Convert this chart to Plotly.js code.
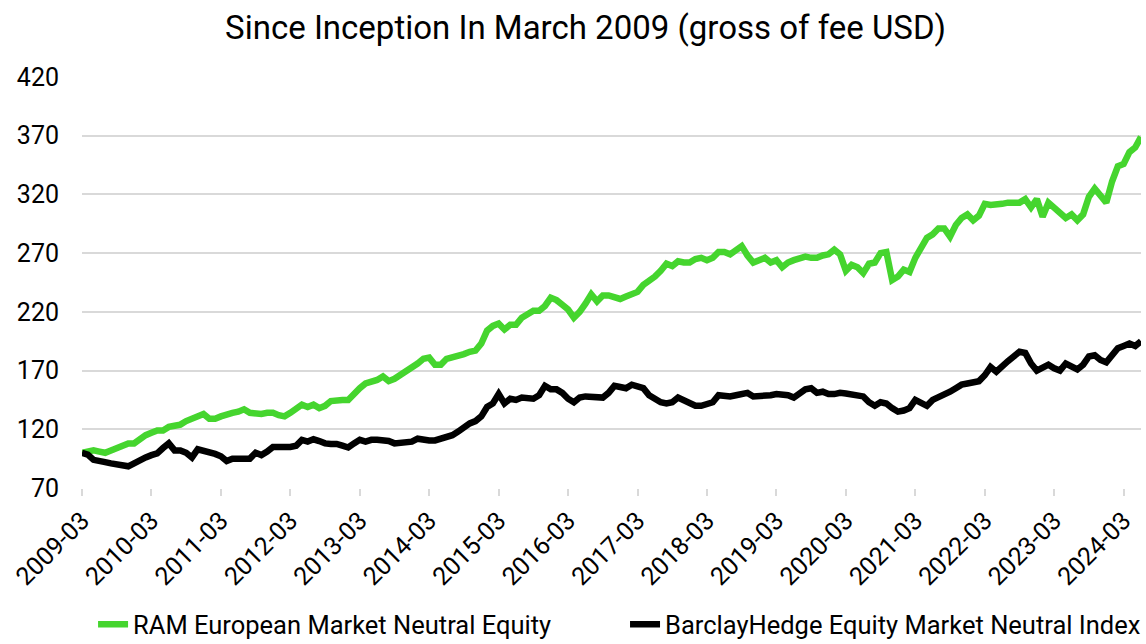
<!DOCTYPE html>
<html>
<head>
<meta charset="utf-8">
<script src="https://cdn.plot.ly/plotly-3.0.1.min.js"></script>
<style>html,body{margin:0;padding:0;background:#fff;}#chart{width:1146px;height:644px;}</style>
</head>
<body>
<div id="chart"></div>
<script>
// Monthly index levels, 2009-03 .. 2024-06
var startYear = 2009, startMonth = 3;
var ramValues = [
 100,101,102,101,100,102,104,107,108,108,
 112,115,117,119,119,122,123,124,127,129,
 131,133,129,129,131,133,134,135,137,134,
 133,133,134,134,132,131,134,138,141,139,
 141,138,140,144,145,145,145,151,155,159,
 160,162,165,161,163,166,169,173,176,180,
 181,175,175,180,181,182,184,186,187,193,
 204,208,210,205,209,209,215,218,221,221,
 225,232,230,226,222,215,220,227,235,229,
 234,234,233,231,233,235,237,243,246,250,
 255,261,259,263,262,262,265,266,264,266,
 271,271,269,273,276,268,262,264,266,262,
 264,258,262,264,266,267,266,266,268,269,
 273,269,255,260,258,253,261,262,270,271,
 247,250,256,254,266,276,283,286,291,291,
 284,294,300,303,298,302,312,311,311,312,
 313,313,313,316,309,316,301,313,309,305,
 300,303,298,303,318,325,318,313,331,344,
 346,356,360,369
];
var barclayValues = [
 100,98.5,94,92.5,92,91,90,89,88.5,91,
 94,96,98,99.5,104,108,102,102,100,96,
 103,102,100,99,97,93,95,95,95.5,95,
 100,98,101,105,105,104.5,105,106,111,109.5,
 111.5,110,108,107.5,107.5,106,104.5,108,111,109.5,
 111,111,110.5,110,108,108.5,109,109.5,112,111,
 110.5,110.5,112,113,115,118,122,125,127,131,
 139,142,150,142,146,145,147,146,146,149,
 157,154,154,151,146,143,147,148,148,147.5,
 147,151,157,156,155,158,157,155,149,146,
 143,142,143,147,145,143,140,140,141,143,
 149,148,148,149,150,151,148,148,148.5,149,
 150,150,149,147,151,154,155,151,152,150,
 150,151,150.5,150,149,148,143,140,143,142,
 138,135,136,138,145,142,140,145,147,150,
 152,155,158,159,160,161,166,173,169,174,
 178,182,186,185,176,170,172,175,172,170,
 176,173,171,175,182,183,179,177,184,189,
 191,193,191,195
];
var tickLabels = ["2009-03","2010-03","2011-03","2012-03","2013-03","2014-03","2015-03","2016-03",
 "2017-03","2018-03","2019-03","2020-03","2021-03","2022-03","2023-03","2024-03"];
var seriesNames = ["RAM European Market Neutral Equity","BarclayHedge Equity Market Neutral Index"];

var months = [];
for (var i = 0; i < ramValues.length; i++) {
  var t = (startMonth - 1) + i;
  var y = startYear + Math.floor(t / 12);
  var m = (t % 12) + 1;
  months.push(y + "-" + (m < 10 ? "0" + m : m));
}

var FONT = "Roboto, 'Liberation Sans', Arial, sans-serif";
var traces = [
  {x: months, y: ramValues, name: seriesNames[0], type: "scatter", mode: "lines",
   line: {color: "#45d52e", width: 6.5}, legend: "legend"},
  {x: months, y: barclayValues, name: seriesNames[1], type: "scatter", mode: "lines",
   line: {color: "#000000", width: 6.5}, legend: "legend2"}
];
var legendFont = {family: FONT, size: 25.5, color: "#000"};
var layout = {
  width: 1146, height: 644,
  paper_bgcolor: "#fff", plot_bgcolor: "#fff",
  margin: {l: 82, r: 5, t: 77, b: 156},
  font: {family: FONT, color: "#000", size: 24},
  title: {text: "Since Inception In March 2009 (gross of fee USD)",
          font: {family: FONT, size: 33, color: "#000"},
          x: 0.511, xanchor: "center", xref: "container", y: 0.958, yanchor: "middle", yref: "container"},
  xaxis: {type: "category", range: [0, ramValues.length - 1], automargin: false,
          tickmode: "array", tickvals: tickLabels, ticktext: tickLabels,
          tickangle: -45, ticks: "outside", ticklen: 7, tickwidth: 2, tickcolor: "#d9d9d9",
          showgrid: false, showline: false, zeroline: false,
          tickfont: {family: FONT, size: 25, color: "#000"}},
  yaxis: {range: [70, 420], tick0: 70, dtick: 50, tickmode: "linear", automargin: false,
          showgrid: true, gridcolor: "#d9d9d9", gridwidth: 2,
          zeroline: false, showline: false, ticks: "",
          ticklabelstandoff: 22,
          tickfont: {family: FONT, size: 25, color: "#000"}},
  showlegend: true,
  legend: {orientation: "h", xref: "container", yref: "container",
           x: 0.0812, xanchor: "left", y: 0.03, yanchor: "middle", font: legendFont},
  legend2: {orientation: "h", xref: "container", yref: "container",
           x: 0.5454, xanchor: "left", y: 0.03, yanchor: "middle", font: legendFont}
};
Plotly.newPlot("chart", traces, layout, {displayModeBar: false, staticPlot: true});
</script>
</body>
</html>
